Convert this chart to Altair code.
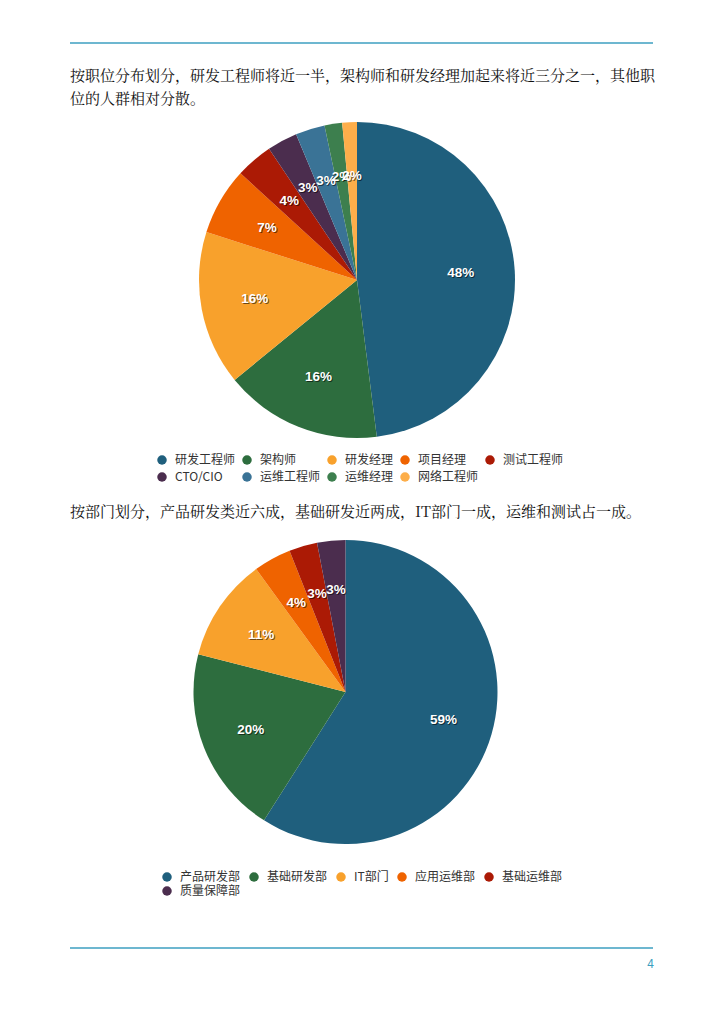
import altair as alt
import pandas as pd

# ---- data ----
roles = ["研发工程师", "架构师", "研发经理", "项目经理", "测试工程师",
         "CTO/CIO", "运维工程师", "运维经理", "网络工程师"]
role_share = [48.0, 16.1, 15.8, 6.9, 3.8, 3.1, 3.0, 1.8, 1.5]
role_colors = ["#1f5f7d", "#2d6d3e", "#f8a12c", "#ef6300", "#ab1a05",
               "#4b2d4e", "#3a7396", "#3d7f4e", "#fdae4a"]

depts = ["产品研发部", "基础研发部", "IT部门", "应用运维部", "基础运维部", "质量保障部"]
dept_share = [59, 20, 11, 4, 3, 3]
dept_colors = ["#1f5f7d", "#2d6d3e", "#f8a12c", "#ef6300", "#ab1a05", "#4b2d4e"]

text_lines = [
    "按职位分布划分，研发工程师将近一半，架构师和研发经理加起来将近三分之一，其他职",
    "位的人群相对分散。",
    "按部门划分，产品研发类近六成，基础研发近两成，IT部门一成，运维和测试占一成。",
]
page_number = "4"

BODY_FONT = "Noto Serif CJK SC, serif"
LEGEND_FONT = "Noto Sans CJK SC"
LABEL_FONT = "Liberation Sans"
LINE_COLOR = "#3d9fc0"


def pie(cats, shares, colors, cx, cy, r, lr, lx, ly, rowpad, colpad):
    df = pd.DataFrame({"cat": cats, "share": shares, "idx": list(range(len(cats)))})
    base = alt.Chart(df).transform_joinaggregate(
        total="sum(share)"
    ).transform_calculate(
        pct="datum.share / datum.total"
    ).encode(
        theta=alt.Theta("share:Q", stack=True),
        order=alt.Order("idx:Q"),
    )
    arc = base.mark_arc(radius=r, stroke=None).encode(
        x=alt.value(cx), y=alt.value(cy),
        color=alt.Color(
            "cat:N",
            scale=alt.Scale(domain=cats, range=colors),
            legend=alt.Legend(
                title=None, orient="none", legendX=lx, legendY=ly,
                direction="horizontal",
                columns=5, symbolType="circle", symbolSize=90,
                symbolStrokeWidth=0, labelFont=LEGEND_FONT, labelFontSize=12,
                labelColor="#333333", labelOffset=7, columnPadding=colpad,
                rowPadding=rowpad, labelLimit=200,
            ),
        ),
    )
    shadow = base.mark_text(
        radius=lr, font=LABEL_FONT, fontSize=13.5, fontWeight="bold",
        color="#000000", opacity=0.55, dx=1, dy=1,
    ).encode(
        x=alt.value(cx), y=alt.value(cy),
        detail="cat:N",
        text=alt.Text("pct:Q", format=".0%"),
    )
    label = base.mark_text(
        radius=lr, font=LABEL_FONT, fontSize=13.5, fontWeight="bold", color="white",
    ).encode(
        x=alt.value(cx), y=alt.value(cy),
        detail="cat:N",
        text=alt.Text("pct:Q", format=".0%"),
    )
    return [arc, shadow, label]


def text_layer(s, x, y, size=15, font=BODY_FONT, color="#111111", align="left"):
    return alt.Chart(pd.DataFrame({"t": [s]})).mark_text(
        font=font, fontSize=size, color=color, align=align, baseline="middle",
    ).encode(text="t:N", x=alt.value(x), y=alt.value(y))


def rule_layer(y, x1, x2):
    return alt.Chart(pd.DataFrame({"a": [0]})).mark_rule(
        color=LINE_COLOR, strokeWidth=1.3,
    ).encode(x=alt.value(x1), x2=alt.value(x2), y=alt.value(y))


layers = []
layers.append(rule_layer(35, 62, 645))
layers.append(rule_layer(940, 62, 645))
layers.append(text_layer(text_lines[0], 62, 68))
layers.append(text_layer(text_lines[1], 62, 91))
layers.append(text_layer(text_lines[2], 62, 504))
layers.append(text_layer(page_number, 646, 956, size=12, font=LEGEND_FONT,
                         color=LINE_COLOR, align="right"))
layers += pie(roles, role_share, role_colors, 349, 272, 158, 104, 148, 446, 5, 5)
layers += pie(depts, dept_share, dept_colors, 337.5, 684, 152, 102, 153, 863, 2, 7)

chart = alt.layer(*layers).resolve_scale(
    theta="independent", color="independent"
).properties(
    width=708, height=1008, padding=0,
    autosize=alt.AutoSizeParams(type="none"),
    background="white",
).configure_view(stroke=None)

chart.save("out.html", embed_options={"renderer": "svg", "actions": False})
